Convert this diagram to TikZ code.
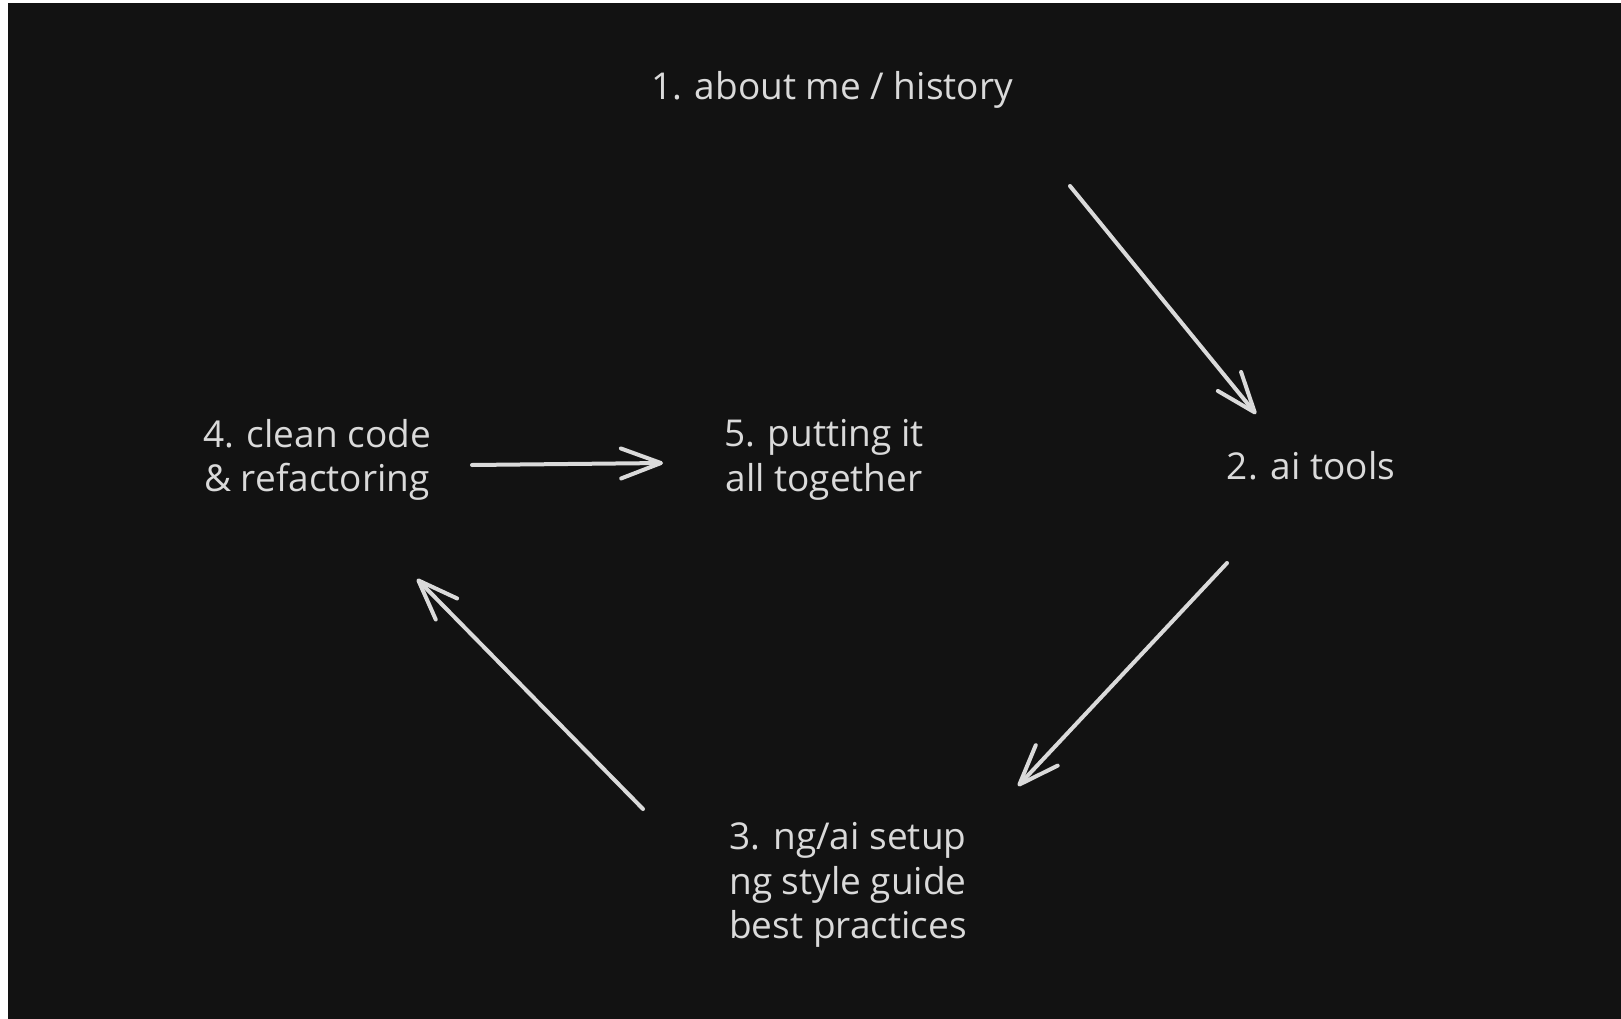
\documentclass[tikz,border=0pt]{standalone}
\usepackage{fontspec}
\setmainfont{Open Sans}
\usetikzlibrary{arrows.meta, positioning}
\definecolor{boardbg}{RGB}{18, 18, 18}
\definecolor{chalk}{RGB}{218, 218, 218}
\tikzset{
  topic/.style={text=chalk, font=\fontsize{37}{44.5}\selectfont, align=center, inner sep=0pt},
  flow/.style={draw=chalk, line width=4pt, line cap=round, -{Straight Barb[length=40pt, width=30pt, line width=4pt, round]}}
}

\begin{document}
\begin{tikzpicture}[x=1pt, y=-1pt]
  % Board
  \fill[white] (0,0) rectangle (1621,1019);
  \fill[boardbg] (8,3) rectangle (1621,1019);
  \useasboundingbox (0,0) rectangle (1621,1019);

  % Topics
  \node[topic] (about) at (832, 90) {1. about me / history};
  \node[topic] (tools) at (1311, 466) {2. ai tools};
  \node[topic] (setup) at (848, 885) {3. ng/ai setup\\ng style guide\\best practices};
  \node[topic] (clean) at (317, 460) {4. clean code\\\& refactoring};
  \node[topic] (together) at (824, 460) {5. putting it\\all together};

  % Arrow ends
  \coordinate (aboutout) at (1070, 186);
  \coordinate (toolsin) at (1256, 414);
  \coordinate (toolsout) at (1227, 563);
  \coordinate (setupin) at (1018, 786);
  \coordinate (setupout) at (643, 809);
  \coordinate (cleanin) at (417, 579);
  \coordinate (cleanout) at (472, 465);
  \coordinate (togetherin) at (663, 463);

  % Flow
  \draw[flow] (aboutout) -- (toolsin);
  \draw[flow] (toolsout) -- (setupin);
  \draw[flow] (setupout) -- (cleanin);
  \draw[flow] (cleanout) -- (togetherin);
\end{tikzpicture}
\end{document}
